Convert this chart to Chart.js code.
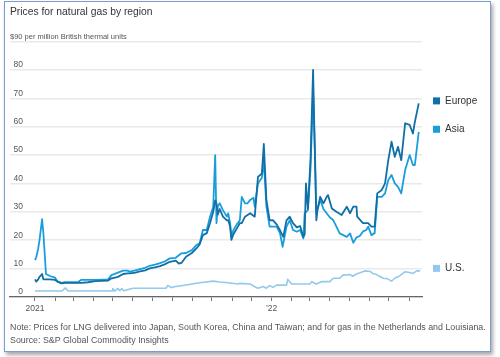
<!DOCTYPE html>
<html>
<head>
<meta charset="utf-8">
<script src="https://cdn.jsdelivr.net/npm/chart.js@4.4.1/dist/chart.umd.min.js"></script>
<style>
  html, body { margin: 0; padding: 0; background: #ffffff; }
  body { width: 500px; height: 357px; position: relative; overflow: hidden; font-family: "Liberation Sans", Arial, sans-serif; }
  #frame { position: absolute; left: 4px; top: 1px; width: 485px; height: 349px; border: 1px solid #7d9ccb; box-shadow: 2px 3px 4px rgba(0,0,0,0.35); background: #fff; }
  #c { position: absolute; left: 0; top: 0; }
  #title { position: absolute; left: 10px; top: 6px; font-size: 10.3px; color: #333; white-space: nowrap; }
  #note { position: absolute; left: 10px; top: 321px; font-size: 8.85px; line-height: 13px; color: #555; white-space: nowrap; }
</style>
</head>
<body>
<div id="frame"></div>
<canvas id="c" width="500" height="357"></canvas>
<div id="title">Prices for natural gas by region</div>
<div id="note">Note: Prices for LNG delivered into Japan, South Korea, China and Taiwan; and for gas in the Netherlands and Louisiana.<br>Source: S&amp;P Global Commodity Insights</div>
<script>
// Days counted from 1 Jan 2021
const monthStarts = [0, 31, 59, 90, 120, 151, 181, 212, 243, 273, 304, 334, 365, 396, 424, 455, 485, 516, 546, 577];
const xTickLabels = { 0: "2021", 365: "\u201922" };
const yTicks = [0, 10, 20, 30, 40, 50, 60, 70, 80];
const yTopLabel = "$90 per million British thermal units";
const seriesNames = ["Europe", "Asia", "U.S."];

const europeDays = [0, 2, 5, 7, 11, 13, 17, 23, 31, 35, 41, 46, 66, 71, 82, 93, 113, 117, 128, 136, 143, 146, 155, 162, 170, 177, 185, 193, 200, 208, 217, 222, 226, 233, 242, 249, 254, 259, 265, 270, 275, 278, 280, 282, 285, 290, 296, 298, 301, 303, 306, 311, 316, 319, 324, 332, 339, 344, 350, 353, 357, 362, 367, 373, 378, 383, 388, 393, 398, 404, 409, 414, 416, 418, 421, 425, 429, 432, 434, 436, 440, 445, 450, 452, 458, 465, 473, 481, 486, 491, 496, 497, 506, 514, 519, 524, 528, 535, 540, 545, 550, 555, 560, 565, 571, 578, 583, 586, 592];
const europePrices = [6.2, 5.4, 6.2, 7.1, 8.1, 6.2, 6.2, 6.2, 6.0, 5.4, 4.8, 5.0, 5.0, 5.0, 5.2, 5.6, 5.8, 6.5, 7.1, 8.1, 8.3, 8.3, 8.6, 9.0, 9.4, 10.1, 10.4, 10.9, 11.5, 12.4, 12.8, 11.8, 12.0, 14.2, 15.5, 17.1, 18.5, 21.8, 22.5, 26.0, 30.0, 34.0, 33.0, 29.0, 31.0, 28.3, 27.0, 27.1, 24.8, 20.1, 22.0, 24.0, 26.0, 26.0, 28.3, 29.5, 28.3, 42.3, 43.5, 53.9, 34.2, 27.0, 27.1, 25.5, 23.5, 21.2, 27.0, 28.3, 26.0, 24.5, 25.0, 21.2, 22.0, 40.0, 31.0, 48.2, 80.0, 48.0, 27.0, 31.0, 35.3, 33.0, 35.3, 35.9, 31.2, 30.0, 28.9, 31.8, 29.5, 31.8, 31.8, 28.3, 26.0, 26.0, 24.8, 24.8, 36.5, 37.7, 40.0, 48.2, 54.7, 49.4, 52.9, 48.2, 61.2, 60.6, 57.6, 61.7, 68.2];

const asiaDays = [0, 2, 5, 7, 11, 13, 17, 23, 31, 35, 41, 46, 66, 71, 82, 93, 113, 118, 128, 136, 143, 146, 155, 162, 170, 177, 185, 193, 200, 208, 217, 226, 233, 242, 249, 254, 259, 265, 270, 275, 278, 280, 282, 285, 290, 296, 298, 301, 303, 306, 311, 316, 319, 324, 328, 332, 337, 339, 344, 350, 353, 357, 362, 367, 373, 378, 382, 388, 393, 398, 404, 409, 414, 416, 421, 425, 429, 432, 434, 440, 445, 450, 455, 460, 465, 470, 481, 486, 491, 496, 501, 506, 511, 514, 519, 524, 528, 535, 540, 545, 550, 555, 560, 565, 571, 578, 583, 586, 592];
const asiaPrices = [13.0, 14.0, 17.1, 20.0, 27.4, 22.4, 8.1, 7.4, 6.8, 5.4, 5.0, 5.2, 5.2, 6.0, 6.0, 6.0, 6.2, 7.7, 8.6, 9.3, 9.3, 8.9, 9.4, 9.8, 10.3, 11.0, 11.4, 11.9, 12.5, 13.6, 13.8, 15.4, 15.5, 16.5, 18.3, 18.9, 23.6, 23.6, 28.3, 31.8, 50.0, 26.0, 32.0, 33.0, 30.6, 28.3, 29.5, 26.0, 21.2, 23.5, 25.5, 27.0, 35.3, 33.0, 33.0, 34.2, 35.0, 31.8, 40.0, 42.0, 48.2, 31.8, 24.8, 24.8, 24.8, 22.4, 17.7, 24.8, 27.1, 23.6, 23.0, 23.6, 20.6, 29.5, 30.6, 45.0, 72.0, 50.0, 29.5, 34.2, 31.0, 29.5, 28.0, 27.1, 24.8, 22.4, 21.2, 22.4, 19.1, 21.0, 21.5, 23.1, 23.6, 24.8, 21.8, 22.5, 35.3, 35.3, 36.5, 41.2, 43.0, 40.0, 38.8, 36.5, 44.7, 50.0, 46.5, 46.5, 58.2];

const usDays = [0, 42, 47, 51, 119, 120, 123, 128, 131, 134, 137, 151, 202, 205, 210, 215, 233, 254, 275, 285, 298, 313, 316, 332, 339, 344, 352, 357, 362, 367, 373, 388, 390, 396, 424, 427, 434, 442, 455, 460, 470, 475, 486, 490, 496, 509, 517, 521, 527, 537, 544, 550, 555, 563, 571, 578, 583, 589, 594];
const usPrices = [2.1, 2.1, 3.2, 2.1, 2.1, 3.0, 2.1, 3.0, 2.2, 3.0, 2.2, 3.1, 3.1, 4.1, 3.3, 3.6, 4.2, 5.0, 5.6, 5.3, 5.0, 4.6, 4.8, 4.6, 3.6, 3.1, 3.7, 3.1, 4.0, 3.4, 4.2, 4.2, 6.2, 4.6, 4.6, 5.4, 4.6, 5.4, 5.4, 6.6, 6.6, 7.7, 7.9, 7.3, 8.1, 9.2, 9.0, 8.3, 7.9, 6.6, 6.4, 5.6, 6.6, 7.5, 8.9, 8.6, 8.3, 9.2, 9.2];

const colors = ["#0f6fa6", "#1a9edb", "#93c9ec"];

const toPoints = (days, vals) => days.map((d, i) => ({ x: d, y: vals[i] }));

const labelPlugin = {
  id: "labels",
  afterDraw(chart) {
    const ctx = chart.ctx;
    const y = chart.scales.y;
    const area = chart.chartArea;
    ctx.save();
    ctx.fillStyle = "#555";
    ctx.font = "8.5px 'Liberation Sans', Arial, sans-serif";
    ctx.textAlign = "right";
    ctx.textBaseline = "middle";
    yTicks.forEach(v => ctx.fillText(String(v), area.left + 13, y.getPixelForValue(v) - 5));
    ctx.textAlign = "left";
    ctx.font = "7.5px 'Liberation Sans', Arial, sans-serif";
    ctx.fillText(yTopLabel, area.left, y.getPixelForValue(90) - 5);
    // legend at series ends
    ctx.font = "10px 'Liberation Sans', Arial, sans-serif";
    chart.data.datasets.forEach(ds => {
      const i = seriesNames.indexOf(ds.label);
      const last = ds.data[ds.data.length - 1].y;
      const py = y.getPixelForValue(last) - 2.5;
      ctx.fillStyle = colors[i];
      ctx.fillRect(area.right + 11, py - 3.5, 7, 7);
      ctx.fillStyle = "#333";
      ctx.fillText(seriesNames[i], area.right + 23, py);
    });
    ctx.restore();
  }
};

new Chart(document.getElementById("c"), {
  type: "line",
  data: {
    datasets: [
      { label: seriesNames[0], data: toPoints(europeDays, europePrices), borderColor: colors[0], borderWidth: 1.8, order: 1 },
      { label: seriesNames[1], data: toPoints(asiaDays, asiaPrices), borderColor: colors[1], borderWidth: 1.8, order: 2 },
      { label: seriesNames[2], data: toPoints(usDays, usPrices), borderColor: colors[2], borderWidth: 1.6, order: 3 }
    ]
  },
  options: {
    responsive: false,
    animation: false,
    devicePixelRatio: 1,
    layout: { padding: { left: 10, right: 78, top: 41.5, bottom: 42 } },
    elements: { point: { radius: 0 }, line: { tension: 0, borderJoinStyle: "round", fill: false } },
    plugins: { legend: { display: false }, tooltip: { enabled: false } },
    scales: {
      x: {
        type: "linear",
        min: -38.5,
        max: 597,
        afterBuildTicks: s => { s.ticks = monthStarts.map(v => ({ value: v })); },
        afterFit: s => { s.height = 18; },
        ticks: {
          autoSkip: false, maxRotation: 0, padding: 3,
          color: "#555", font: { size: 8.5, family: "'Liberation Sans', Arial, sans-serif" },
          callback: v => xTickLabels[v] || ""
        },
        grid: { drawOnChartArea: false, drawTicks: true, tickLength: 4, color: "#777", lineWidth: 1 },
        border: { display: true, color: "#666", width: 1.2 }
      },
      y: {
        min: 0, max: 90,
        afterFit: s => { s.width = 0; },
        ticks: { display: false, stepSize: 10 },
        grid: { color: "#e9e9e9", lineWidth: 1.5, drawTicks: false },
        border: { display: false }
      }
    }
  },
  plugins: [labelPlugin]
});
</script>
</body>
</html>
